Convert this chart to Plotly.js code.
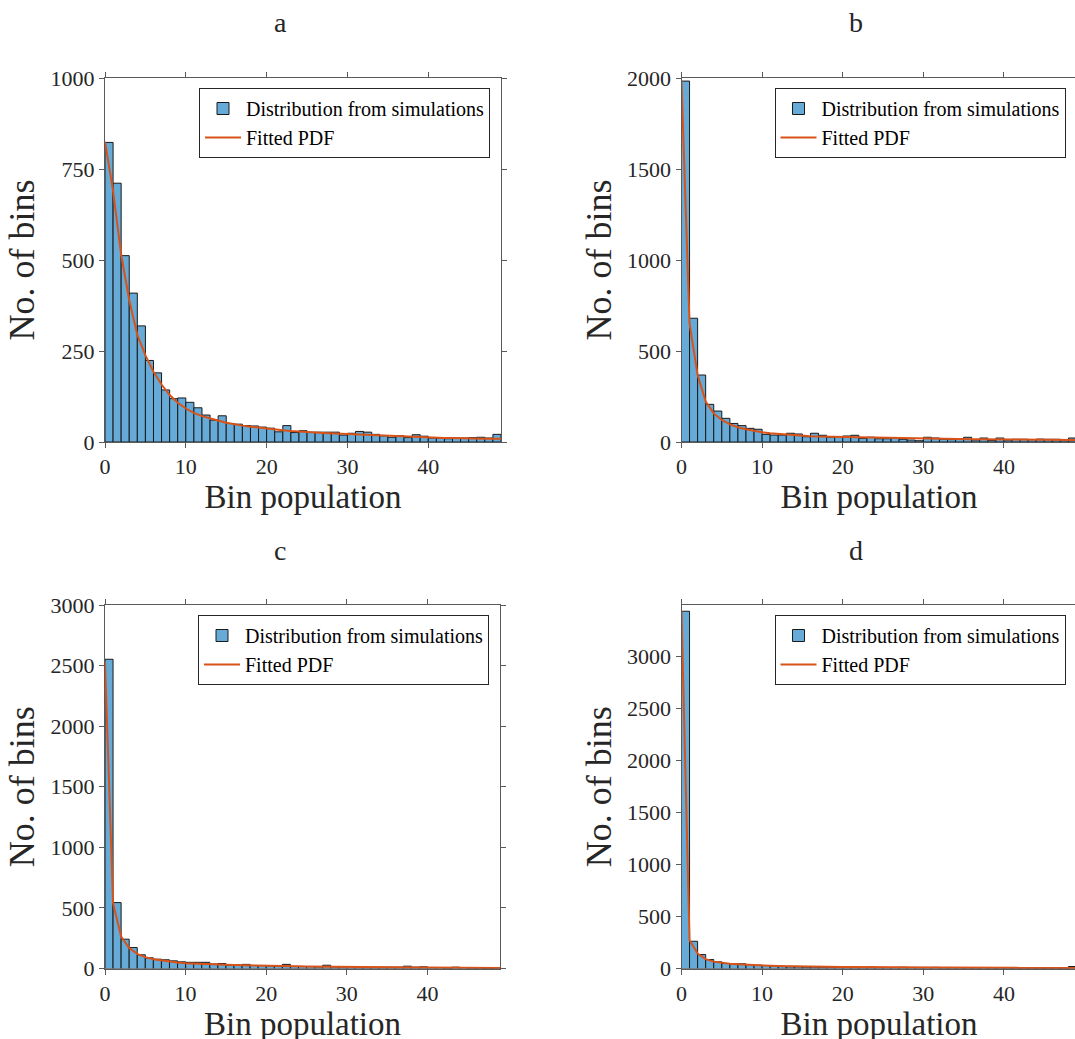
<!DOCTYPE html>
<html><head><meta charset="utf-8">
<script src="https://cdn.plot.ly/plotly-3.0.1.min.js"></script>
<style>html,body{margin:0;padding:0;overflow:hidden;background:#fff}</style>
</head><body><div id="chart"></div>
<script>
// ---- data ----
const panelTitles = ['a', 'b', 'c', 'd'];
const seriesNames = ['Distribution from simulations', 'Fitted PDF'];
const xLabel = 'Bin population';
const yLabel = 'No. of bins';
const xTicks = [0, 10, 20, 30, 40];

const countsA = [823, 711, 512, 409, 319, 224, 190, 143, 119, 121, 109, 94, 74, 60, 72, 51, 49, 45, 44, 41,
  38, 28, 45, 26, 31, 27, 27, 27, 27, 19, 24, 29, 27, 21, 17, 13, 17, 12, 20, 16,
  11, 11, 9, 11, 11, 12, 13, 11, 21];
const fitA = [825, 690, 515, 390, 294, 238, 193, 158, 129, 108, 92, 80, 71, 64, 59, 53, 48, 45, 42, 39,
  36, 34, 32, 30, 28, 27, 26, 25, 24, 22, 21, 20, 19, 18, 17, 16, 15, 15, 14, 13,
  12, 12, 11, 11, 10, 10, 10, 9, 9, 9];

const countsB = [1983, 680, 368, 207, 170, 130, 102, 90, 75, 70, 42, 38, 38, 48, 44, 29, 48, 37, 26, 29,
  33, 37, 20, 26, 18, 18, 22, 15, 11, 7, 26, 22, 15, 13, 18, 26, 11, 22, 9, 22,
  11, 15, 15, 13, 16, 15, 15, 11, 22];
const fitB = [1980, 650, 368, 222, 157, 121, 97, 81, 70, 60, 53, 48, 44, 40, 37, 34, 32, 30, 29, 28,
  27, 26, 25, 24, 23, 22, 21, 20, 20, 19, 18, 18, 17, 17, 16, 16, 15, 15, 15, 14,
  14, 14, 13, 13, 13, 12, 12, 12, 11, 11];

const countsC = [2552, 544, 242, 173, 113, 88, 77, 72, 63, 55, 51, 51, 51, 37, 41, 27, 29, 34, 25, 25,
  22, 20, 34, 16, 16, 16, 14, 27, 14, 14, 16, 11, 11, 11, 11, 11, 11, 19, 11, 14,
  8, 8, 5, 11, 8, 5, 5, 3, 3];
const fitC = [2530, 539, 264, 168, 121, 94, 77, 66, 58, 50, 44, 40, 37, 34, 32, 30, 28, 26, 25, 23,
  22, 21, 20, 19, 18, 17, 16, 16, 15, 15, 14, 13, 13, 12, 12, 11, 11, 10, 10, 9,
  9, 8, 8, 7, 7, 6, 6, 6, 5, 5];

const countsD = [3436, 262, 134, 86, 64, 48, 45, 45, 38, 32, 29, 24, 18, 16, 16, 14, 14, 13, 13, 12,
  13, 12, 11, 14, 11, 10, 10, 12, 10, 9, 9, 11, 8, 8, 8, 8, 7, 8, 7, 7,
  7, 6, 6, 6, 5, 5, 6, 5, 19];
const fitD = [3436, 272, 144, 90, 66, 52, 45, 40, 35, 31, 28, 26, 24, 22, 20, 19, 18, 17, 16, 15,
  14, 14, 13, 13, 12, 12, 11, 11, 10, 10, 10, 9, 9, 9, 8, 8, 8, 8, 7, 7,
  7, 7, 6, 6, 6, 6, 6, 6, 5, 5];

const yTicksA = [0, 250, 500, 750, 1000];
const yTicksB = [0, 500, 1000, 1500, 2000];
const yTicksC = [0, 500, 1000, 1500, 2000, 2500, 3000];
const yTicksD = [0, 500, 1000, 1500, 2000, 2500, 3000];
const yMax = [1000, 2000, 3000, 3496];
const xMax = 49;

// ---- layout helpers (canvas slightly larger than the window; extra is clipped) ----
const W = 1078, H = 1048;
const FONT = '"Liberation Serif", "Times New Roman", serif';
const TXT = '#262626';
const AX = '#5a5a5a';
const BAR = '#66AAD7';
const LINE = '#D95319';

const panels = [
  {counts: countsA, fit: fitA, yt: yTicksA, ym: yMax[0], px: [105, 501], py: [78, 442], tx: 280},
  {counts: countsB, fit: fitB, yt: yTicksB, ym: yMax[1], px: [681.5, 1076.5], py: [78, 442], tx: 856},
  {counts: countsC, fit: fitC, yt: yTicksC, ym: yMax[2], px: [105, 500], py: [605, 968.5], tx: 280},
  {counts: countsD, fit: fitD, yt: yTicksD, ym: yMax[3], px: [681.5, 1076.5], py: [605, 968.5], tx: 856}
];

const data = [];
const layout = {
  width: W, height: H,
  margin: {l: 0, r: 0, t: 0, b: 0},
  paper_bgcolor: '#fff', plot_bgcolor: '#fff',
  showlegend: true,
  font: {family: FONT, color: TXT},
  annotations: [],
  bargap: 0
};

panels.forEach((p, i) => {
  const n = i === 0 ? '' : String(i + 1);
  const xa = 'x' + n, ya = 'y' + n;
  const lg = 'legend' + n;
  data.push({
    type: 'bar', xaxis: xa, yaxis: ya, legend: lg,
    name: seriesNames[0],
    x: p.counts.map((_, k) => k), y: p.counts,
    offset: 0, width: 1,
    marker: {color: BAR, line: {color: '#1a1a1a', width: 1}},
    hoverinfo: 'x+y'
  });
  data.push({
    type: 'scatter', mode: 'lines', xaxis: xa, yaxis: ya, legend: lg,
    name: seriesNames[1],
    x: p.fit.map((_, k) => k), y: p.fit,
    line: {color: LINE, width: 2}
  });
  const common = {
    showline: true, linecolor: AX, linewidth: 1, mirror: 'allticks',
    ticks: 'outside', ticklen: 5, tickcolor: AX, tickwidth: 1,
    showgrid: false, zeroline: false,
    tickfont: {family: FONT, size: 22, color: TXT}
  };
  layout['xaxis' + n] = Object.assign({}, common, {
    anchor: ya, domain: [p.px[0] / W, p.px[1] / W],
    range: [0, xMax], tickvals: xTicks,
    title: {text: xLabel, font: {family: FONT, size: 33, color: TXT}, standoff: 3}
  });
  layout['yaxis' + n] = Object.assign({}, common, {
    anchor: xa, domain: [1 - p.py[1] / H, 1 - p.py[0] / H],
    range: [0, p.ym], tickvals: p.yt,
    title: {text: yLabel, font: {family: FONT, size: 36, color: TXT}, standoff: 4}
  });
  layout[lg] = {
    x: (p.px[1] - 11) / W, xanchor: 'right',
    y: 1 - (p.py[0] + 10) / H, yanchor: 'top',
    bgcolor: '#fff', bordercolor: '#262626', borderwidth: 1,
    font: {family: FONT, size: 20, color: '#000'},
    tracegroupgap: 0, itemwidth: 36
  };
  layout.annotations.push({
    text: panelTitles[i], showarrow: false,
    xref: 'paper', yref: 'paper',
    x: p.tx / W, xanchor: 'center',
    y: 1 - (p.py[0] - 55) / H, yanchor: 'middle',
    font: {family: FONT, size: 28, color: TXT}
  });
});

Plotly.newPlot('chart', data, layout, {displayModeBar: false, staticPlot: true});
</script>
</body></html>
